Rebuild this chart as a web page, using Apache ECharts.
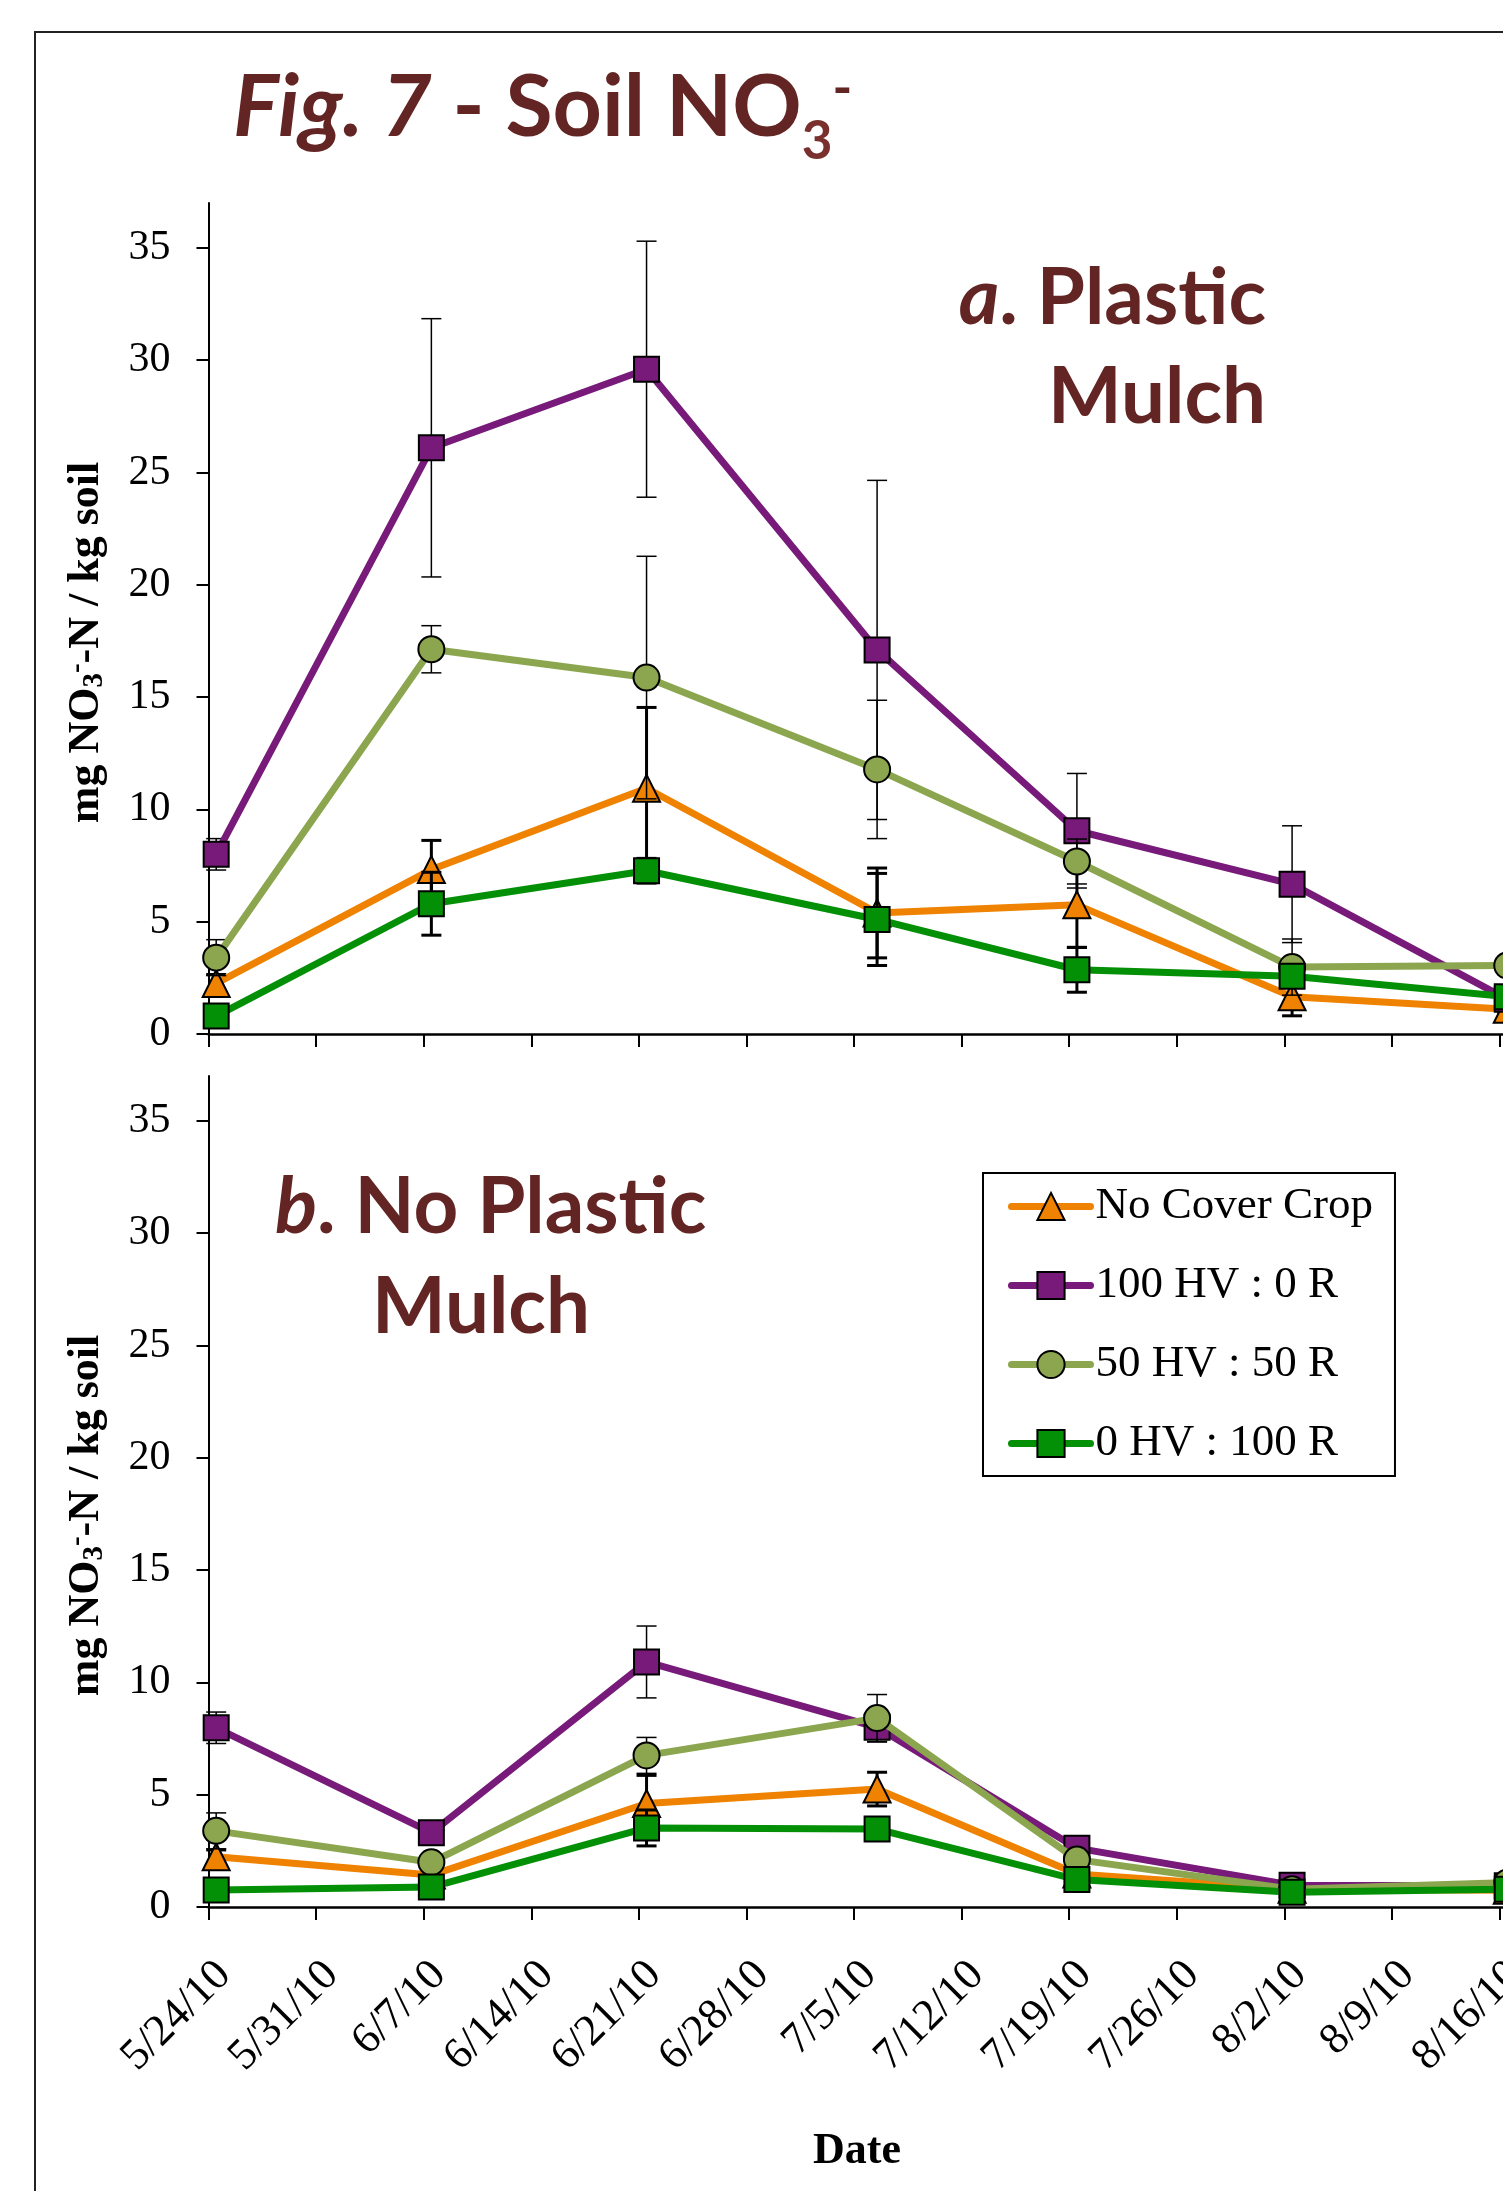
<!DOCTYPE html>
<html>
<head>
<meta charset="utf-8">
<title>Fig. 7 - Soil NO3-</title>
<script src="https://cdn.jsdelivr.net/npm/echarts@6/dist/echarts.min.js"></script>
<style>
  html, body { margin: 0; padding: 0; background: #fff; }
  #chart { width: 1503px; height: 2191px; }
</style>
</head>
<body>
<div id="chart"></div>
<script>
// ---- data ----
const seriesNames = ['No Cover Crop', '100 HV : 0 R', '50 HV : 50 R', '0 HV : 100 R'];
const sampleDates = ['5/24/10', '6/7/10', '6/21/10', '7/6/10', '7/19/10', '8/2/10', '8/16/10'];
const tickLabels = ['5/24/10', '5/31/10', '6/7/10', '6/14/10', '6/21/10', '6/28/10', '7/5/10',
  '7/12/10', '7/19/10', '7/26/10', '8/2/10', '8/9/10', '8/16/10'];
const yTicks = [0, 5, 10, 15, 20, 25, 30, 35];

// a. plastic mulch
const plasticNoCover = [2.25, 7.32, 10.94, 5.39, 5.75, 1.66, 1.1];
const plasticNoCoverErr = [0.4, 1.3, 3.6, 2.0, 1.9, 0.85, 0.2];
const plastic100HV = [8.0, 26.1, 29.6, 17.1, 9.05, 6.67, 1.55];
const plastic100HVErr = [0.7, 5.75, 5.7, 7.55, 2.55, 2.6, 0.3];
const plastic50HV = [3.4, 17.13, 15.87, 11.78, 7.68, 2.98, 3.05];
const plastic50HVErr = [0.8, 1.05, 5.4, 3.08, 1.0, 1.25, 0.4];
const plastic0HV = [0.8, 5.8, 7.27, 5.1, 2.86, 2.57, 1.66];
const plastic0HVErr = [0.3, 1.4, 0.55, 2.05, 1.0, 0.4, 0.2];

// b. no plastic mulch
const bareNoCover = [2.24, 1.42, 4.61, 5.25, 1.47, 0.79, 0.75];
const bareNoCoverErr = [0.3, 0.2, 1.25, 0.75, 0.2, 0.1, 0.1];
const bare100HV = [7.98, 3.31, 10.91, 8.0, 2.62, 0.97, 0.95];
const bare100HVErr = [0.7, 0.3, 1.6, 0.65, 0.3, 0.2, 0.1];
const bare50HV = [3.39, 1.99, 6.75, 8.41, 2.11, 0.79, 1.09];
const bare50HVErr = [0.8, 0.3, 0.8, 1.05, 0.3, 0.1, 0.1];
const bare0HV = [0.76, 0.89, 3.52, 3.47, 1.22, 0.66, 0.79];
const bare0HVErr = [0.2, 0.2, 0.8, 0.3, 0.2, 0.1, 0.1];

// ---- helpers ----
const DAY = 86400000;
function parseDate(s) {
  const [m, d, y] = s.split('/').map(Number);
  return Date.UTC(2000 + y, m - 1, d);
}
const t0 = parseDate(tickLabels[0]);
// excel date axis puts each point in the middle of its day
const dayPos = sampleDates.map((s) => (parseDate(s) - t0) / DAY + 0.5);

const serif = 'Liberation Serif';
const sans = 'Lato';
const titleColor = '#632523';

const styles = [
  { color: '#EF8200', symbol: 'triangle', size: 27, errWidth: 3 },
  { color: '#771A79', symbol: 'rect', size: 25, errWidth: 1.5 },
  { color: '#8BA64E', symbol: 'circle', size: 26, errWidth: 1.5 },
  { color: '#038F06', symbol: 'rect', size: 25, errWidth: 3 },
];

function lineSeries(idx, values, gi) {
  const st = styles[idx];
  return {
    name: seriesNames[idx],
    type: 'line',
    xAxisIndex: gi,
    yAxisIndex: gi,
    z: 10 + idx * 2,
    symbol: st.symbol,
    symbolSize: st.size,
    showAllSymbol: true,
    clip: false,
    data: values.map((v, i) => [dayPos[i], v]),
    lineStyle: { color: st.color, width: 7, cap: 'round' },
    itemStyle: { color: st.color, borderColor: '#000', borderWidth: 2 },
    emphasis: { disabled: true },
  };
}

function errorSeries(idx, values, errs, gi) {
  const w = styles[idx].errWidth;
  return {
    type: 'custom',
    xAxisIndex: gi,
    yAxisIndex: gi,
    z: 9 + idx * 2,
    silent: true,
    data: values.map((v, i) => [dayPos[i], v - errs[i], v + errs[i]]),
    renderItem: (params, api) => {
      const lo = api.coord([api.value(0), api.value(1)]);
      const hi = api.coord([api.value(0), api.value(2)]);
      const cap = 10;
      const style = { stroke: '#000', lineWidth: w };
      return {
        type: 'group',
        children: [
          { type: 'line', shape: { x1: lo[0], y1: lo[1], x2: hi[0], y2: hi[1] }, style },
          { type: 'line', shape: { x1: hi[0] - cap, y1: hi[1], x2: hi[0] + cap, y2: hi[1] }, style },
          { type: 'line', shape: { x1: lo[0] - cap, y1: lo[1], x2: lo[0] + cap, y2: lo[1] }, style },
        ],
      };
    },
  };
}

function xAxis(gi, showLabels) {
  return {
    type: 'value',
    gridIndex: gi,
    min: 0,
    max: 91,
    interval: 7,
    axisLine: { onZero: false, lineStyle: { color: '#000', width: 2.5 } },
    axisTick: { show: true, length: 13, lineStyle: { color: '#000', width: 2 } },
    axisLabel: {
      show: showLabels,
      rotate: 45,
      margin: 46,
      verticalAlign: 'top',
      fontFamily: serif,
      fontSize: 44,
      color: '#000',
      formatter: (v) => tickLabels[v / 7] || '',
    },
    splitLine: { show: false },
  };
}

function yAxis(gi) {
  return {
    type: 'value',
    gridIndex: gi,
    min: 0,
    max: 37,
    interval: 5,
    axisLine: { show: true, onZero: false, lineStyle: { color: '#000', width: 2 } },
    axisTick: { show: true, length: 12, customValues: yTicks, lineStyle: { color: '#000', width: 2 } },
    axisLabel: {
      customValues: yTicks,
      margin: 38,
      padding: [9, 0, 0, 0],
      fontFamily: serif,
      fontSize: 42,
      color: '#000',
    },
    splitLine: { show: false },
    name: '{t|mg NO}{sub|3}{sup|-}{t|-N / kg soil}',
    nameLocation: 'middle',
    nameGap: 99,
    nameTextStyle: {
      fontFamily: serif,
      fontWeight: 'bold',
      fontSize: 44,
      color: '#000',
      padding: [0, 48, 0, 0],
      rich: {
        t: { fontFamily: serif, fontWeight: 'bold', fontSize: 44, lineHeight: 46, color: '#000' },
        sub: { fontFamily: serif, fontWeight: 'bold', fontSize: 29, verticalAlign: 'bottom', color: '#000' },
        sup: { fontFamily: serif, fontWeight: 'bold', fontSize: 29, verticalAlign: 'top', color: '#000' },
      },
    },
  };
}

const chart = echarts.init(document.getElementById('chart'), null, { renderer: 'canvas' });

const panelA = [plasticNoCover, plastic100HV, plastic50HV, plastic0HV];
const panelAErr = [plasticNoCoverErr, plastic100HVErr, plastic50HVErr, plastic0HVErr];
const panelB = [bareNoCover, bare100HV, bare50HV, bare0HV];
const panelBErr = [bareNoCoverErr, bare100HVErr, bare50HVErr, bare0HVErr];

const series = [];
[panelA, panelB].forEach((panel, gi) => {
  const errs = gi === 0 ? panelAErr : panelBErr;
  panel.forEach((values, idx) => {
    series.push(errorSeries(idx, values, errs[idx], gi));
    series.push(lineSeries(idx, values, gi));
  });
});

const option = {
  backgroundColor: '#fff',
  animation: false,
  grid: [
    { left: 208.5, top: 203, width: 91 * 15.37, height: 831, outerBoundsMode: 'none', containLabel: false },
    { left: 208.5, top: 1076, width: 91 * 15.37, height: 831, outerBoundsMode: 'none', containLabel: false },
  ],
  xAxis: [xAxis(0, false), xAxis(1, true)],
  yAxis: [yAxis(0), yAxis(1)],
  legend: {
    data: seriesNames,
    orient: 'vertical',
    left: 983,
    top: 1173,
    padding: [11, 22, 10, 25],
    itemWidth: 79,
    itemHeight: 34,
    itemGap: 34,
    borderColor: '#000',
    borderWidth: 2,
    backgroundColor: '#fff',
    selectedMode: false,
    lineStyle: { width: 7, cap: 'round' },
    itemStyle: { borderColor: '#000', borderWidth: 2 },
    textStyle: { fontFamily: serif, fontSize: 45, lineHeight: 45, color: '#000' },
  },
  graphic: [
    {
      type: 'rect',
      z: -10,
      shape: { x: 35, y: 32, width: 2000, height: 3000 },
      style: { fill: 'none', stroke: '#222', lineWidth: 2 },
    },
    {
      type: 'text',
      x: 233,
      y: 48,
      style: {
        text: '{i|Fig. 7}{b| - Soil NO}{sub|3}{sup|-}',
        verticalAlign: 'top',
        rich: {
          i: { fontFamily: sans, fontWeight: 'bold', fontStyle: 'italic', fontSize: 86, lineHeight: 120, fill: titleColor },
          b: { fontFamily: sans, fontWeight: 'bold', fontSize: 86, lineHeight: 120, fill: titleColor },
          sub: { fontFamily: sans, fontWeight: 'bold', fontSize: 53, verticalAlign: 'bottom', fill: '#7a302c' },
          sup: { fontFamily: sans, fontWeight: 'bold', fontSize: 53, verticalAlign: 'top', padding: [14, 0, 0, 0], fill: titleColor },
        },
      },
    },
    {
      type: 'text',
      x: 1266,
      y: 299,
      style: {
        text: '{i|a}{b|. Plastic}',
        align: 'right',
        verticalAlign: 'middle',
        rich: {
          i: { fontFamily: sans, fontWeight: 'bold', fontStyle: 'italic', fontSize: 78, fill: titleColor },
          b: { fontFamily: sans, fontWeight: 'bold', fontSize: 78, fill: titleColor },
        },
      },
    },
    {
      type: 'text',
      x: 1266,
      y: 398,
      style: {
        text: 'Mulch',
        align: 'right',
        verticalAlign: 'middle',
        font: 'bold 78px Lato',
        fill: titleColor,
      },
    },
    {
      type: 'text',
      x: 275,
      y: 1208,
      style: {
        text: '{i|b}{b|. No Plastic}',
        align: 'left',
        verticalAlign: 'middle',
        rich: {
          i: { fontFamily: sans, fontWeight: 'bold', fontStyle: 'italic', fontSize: 78, fill: titleColor },
          b: { fontFamily: sans, fontWeight: 'bold', fontSize: 78, fill: titleColor },
        },
      },
    },
    {
      type: 'text',
      x: 372,
      y: 1308,
      style: {
        text: 'Mulch',
        align: 'left',
        verticalAlign: 'middle',
        font: 'bold 78px Lato',
        fill: titleColor,
      },
    },
    {
      type: 'text',
      x: 857,
      y: 2152,
      style: {
        text: 'Date',
        align: 'center',
        verticalAlign: 'middle',
        font: 'bold 44px "Liberation Serif"',
        fill: '#000',
      },
    },
  ],
  series: series,
};

chart.setOption(option);
</script>
</body>
</html>
